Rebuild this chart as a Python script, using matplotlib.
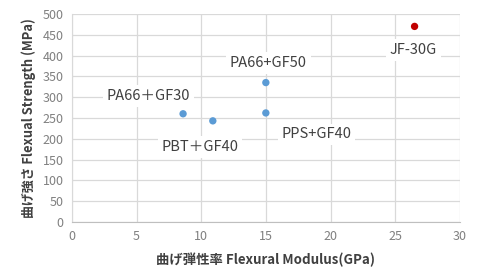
import matplotlib
matplotlib.use("Agg")
import matplotlib.pyplot as plt

plt.rcParams['font.family'] = ['Noto Sans CJK JP', 'DejaVu Sans']

names = ["PA66＋GF30", "PBT＋GF40", "PA66+GF50", "PPS+GF40", "JF-30G"]
modulus = [8.6, 10.9, 15.0, 15.0, 26.5]
strength = [260, 243, 335, 262, 470]
colors = ["#5B9BD5", "#5B9BD5", "#5B9BD5", "#5B9BD5", "#C00000"]
label_pos = [(5.9, 303), (9.9, 180), (15.2, 382), (18.9, 211), (26.4, 413)]
xticks = [0, 5, 10, 15, 20, 25, 30]
yticks = list(range(0, 501, 50))

fig = plt.figure(figsize=(4.79, 2.73), dpi=100)
ax = fig.add_axes([0.150, 0.187, 0.810, 0.762])
ax.scatter(modulus, strength, s=28, c=colors, zorder=3, linewidths=0)
for n, (lx, ly) in zip(names, label_pos):
    ax.text(lx, ly, n, ha='center', va='center', fontsize=10.5, color='#404040',
            bbox=dict(boxstyle='square,pad=0.25', fc='white', ec='none'), zorder=4)

ax.set_xlim(0, 30)
ax.set_ylim(0, 500)
ax.set_xticks(xticks)
ax.set_yticks(yticks)
ax.grid(True, color='#D9D9D9', linewidth=0.9, zorder=0)
ax.set_axisbelow(True)
for s in ax.spines.values():
    s.set_visible(False)
ax.spines['left'].set_visible(True)
ax.spines['left'].set_color('#D9D9D9')
ax.spines['bottom'].set_visible(True)
ax.spines['bottom'].set_color('#BFBFBF')
ax.tick_params(length=0, labelsize=9, labelcolor='#808080', pad=6)
ax.set_xlabel("曲げ弾性率 Flexural Modulus(GPa)", fontsize=9.6, fontweight='bold', color='#404040', labelpad=7)
ax.set_ylabel("曲げ強さ Flexual Strength (MPa)", fontsize=9.3, fontweight='bold', color='#404040', labelpad=5)

fig.savefig("out.png", dpi=100)
